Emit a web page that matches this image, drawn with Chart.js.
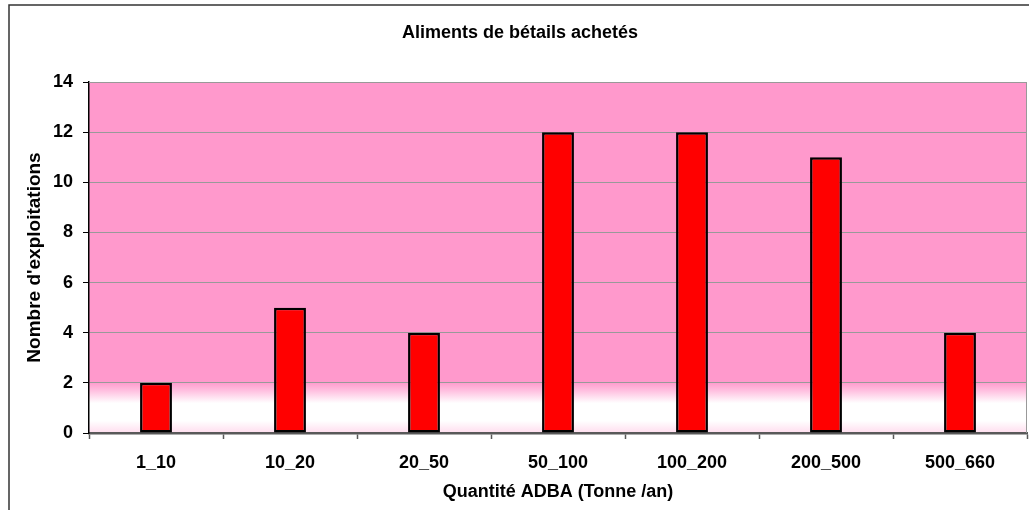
<!DOCTYPE html>
<html lang="fr">
<head>
<meta charset="utf-8">
<title>Aliments de bétails achetés</title>
<script src="https://cdn.jsdelivr.net/npm/chart.js@4.4.1/dist/chart.umd.min.js"></script>
<style>
  html, body { margin: 0; padding: 0; background: #ffffff; }
  #wrap { width: 1029px; height: 510px; position: relative; }
</style>
</head>
<body>
<div id="wrap"><canvas id="chart" width="1029" height="510"></canvas></div>
<script>
// Classes de quantité d'aliments achetés (tonnes par an)
const categories = ['1_10', '10_20', '20_50', '50_100', '100_200', '200_500', '500_660'];
// Nombre d'exploitations par classe
const counts = [2, 5, 4, 12, 12, 11, 4];
// Graduations de l'axe vertical
const yMin = 0;
const yMax = 14;
const yStep = 2;

const chartTitle = 'Aliments de bétails achetés';
const xTitle = 'Quantité ADBA (Tonne /an)';
const yTitle = "Nombre d'exploitations";

const FONT = "'Liberation Sans', Arial, Helvetica, sans-serif";

// Cadre extérieur et fond dégradé de la zone de tracé
const backdrop = {
  id: 'backdrop',
  beforeDraw(chart) {
    const { ctx, chartArea: a } = chart;
    ctx.save();
    // cadre extérieur (haut et gauche)
    ctx.strokeStyle = '#333333';
    ctx.lineWidth = 1.5;
    ctx.beginPath();
    ctx.moveTo(9, chart.height + 2);
    ctx.lineTo(9, 5);
    ctx.lineTo(chart.width + 2, 5);
    ctx.stroke();
    // fond rose qui s'éclaircit vers le bas
    const g = ctx.createLinearGradient(0, a.top, 0, a.bottom);
    g.addColorStop(0, '#FF99CC');
    g.addColorStop(0.855, '#FF99CC');
    g.addColorStop(0.875, '#FFB8DC');
    g.addColorStop(0.915, '#FFFFFF');
    g.addColorStop(0.965, '#FFFFFF');
    g.addColorStop(1, '#FFDDEE');
    ctx.fillStyle = g;
    ctx.fillRect(a.left, a.top, a.right - a.left, a.bottom - a.top);
    ctx.restore();
  },
  afterDraw(chart) {
    const { ctx, chartArea: a } = chart;
    ctx.save();
    ctx.strokeStyle = '#999999';
    ctx.lineWidth = 1;
    ctx.beginPath();
    ctx.moveTo(a.left, a.top + 0.5);
    ctx.lineTo(a.right - 0.5, a.top + 0.5);
    ctx.lineTo(a.right - 0.5, a.bottom);
    ctx.stroke();
    ctx.restore();
  }
};

new Chart(document.getElementById('chart'), {
  type: 'bar',
  data: {
    labels: categories,
    datasets: [{
      data: counts,
      backgroundColor: '#FF0000',
      borderColor: '#000000',
      borderWidth: 2.5,
      borderSkipped: false,
      categoryPercentage: 1,
      barPercentage: 0.238
    }]
  },
  options: {
    responsive: false,
    animation: false,
    devicePixelRatio: 1,
    layout: { padding: { left: 13, right: 2, top: 0, bottom: 0 } },
    plugins: {
      legend: { display: false },
      tooltip: { enabled: false },
      title: {
        display: true,
        text: chartTitle,
        color: '#000000',
        font: { family: FONT, size: 18, weight: 'bold' },
        padding: { top: 22, bottom: 38.4 }
      }
    },
    scales: {
      x: {
        offset: true,
        grid: {
          offset: true,
          drawOnChartArea: false,
          drawTicks: true,
          tickLength: 6,
          tickColor: '#595959',
          tickWidth: 1.5
        },
        border: { display: true, color: '#595959', width: 2.5 },
        ticks: {
          color: '#000000',
          padding: 13,
          maxRotation: 0,
          font: { family: FONT, size: 18, weight: 'bold' }
        },
        title: {
          display: true,
          text: xTitle,
          color: '#000000',
          font: { family: FONT, size: 18, weight: 'bold' },
          padding: { top: 0, bottom: 7 }
        },
        afterFit(scale) { scale.height = 77; }
      },
      y: {
        min: yMin,
        max: yMax,
        grid: {
          color: '#999999',
          lineWidth: 1,
          drawTicks: true,
          tickLength: 6,
          tickColor: '#000000'
        },
        border: { display: true, color: '#000000', width: 1.5 },
        ticks: {
          stepSize: yStep,
          color: '#000000',
          padding: 10,
          font: { family: FONT, size: 18, weight: 'bold' }
        },
        title: {
          display: true,
          text: yTitle,
          color: '#000000',
          font: { family: FONT, size: 19, weight: 'bold' },
          padding: { top: 10, bottom: 0 }
        },
        afterFit(scale) { scale.width = 76; }
      }
    }
  },
  plugins: [backdrop]
});
</script>
</body>
</html>
